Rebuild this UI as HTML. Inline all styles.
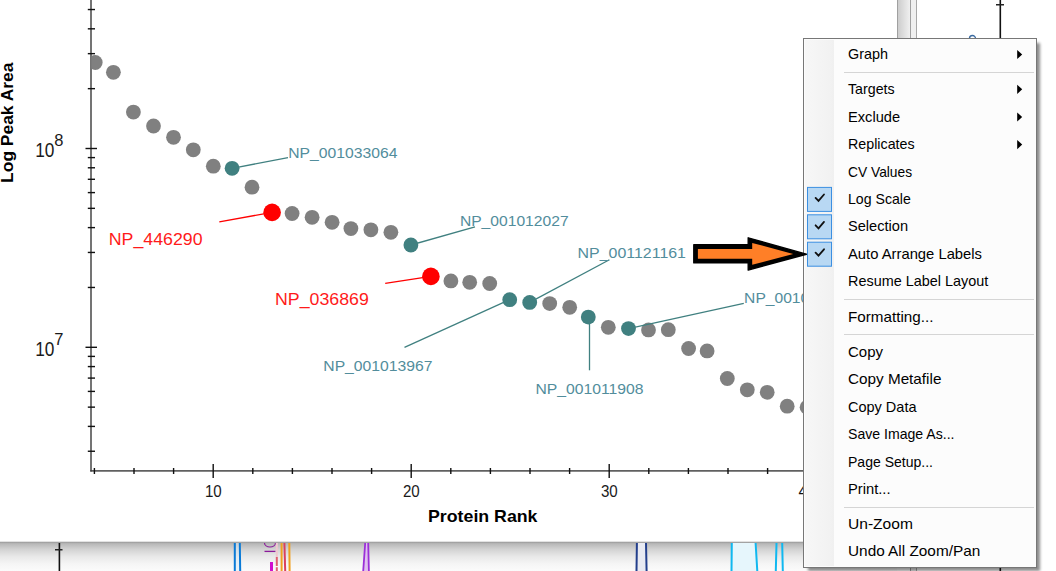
<!DOCTYPE html>
<html><head><meta charset="utf-8"><style>
html,body{margin:0;padding:0;background:#fff;width:1056px;height:571px;overflow:hidden;position:relative;font-family:"Liberation Sans",sans-serif}
</style></head><body>
<svg width="1056" height="571" viewBox="0 0 1056 571" style="position:absolute;left:0;top:0">
<defs>
<clipPath id="plot"><rect x="91.5" y="0" width="712" height="470"/></clipPath>
<linearGradient id="botg" x1="0" y1="0" x2="0" y2="1"><stop offset="0" stop-color="#9a9a9a"/><stop offset="0.06" stop-color="#b8b8b8"/><stop offset="0.25" stop-color="#d2d2d2"/><stop offset="0.5" stop-color="#e8e8e8"/><stop offset="0.75" stop-color="#f5f5f5"/><stop offset="1" stop-color="#fbfbfb"/></linearGradient>
<linearGradient id="splg" x1="0" y1="0" x2="1" y2="0"><stop offset="0" stop-color="#cdcdcd"/><stop offset="1" stop-color="#f0f0f0"/></linearGradient>
<linearGradient id="gutg" x1="0" y1="0" x2="1" y2="0"><stop offset="0" stop-color="#f7f7f7"/><stop offset="0.85" stop-color="#f2f2f2"/><stop offset="1" stop-color="#f0f0f0"/></linearGradient>
<linearGradient id="shr" x1="0" y1="0" x2="1" y2="0"><stop offset="0" stop-color="#000" stop-opacity="0.45"/><stop offset="1" stop-color="#000" stop-opacity="0"/></linearGradient>
<linearGradient id="shb" x1="0" y1="0" x2="0" y2="1"><stop offset="0" stop-color="#000" stop-opacity="0.45"/><stop offset="1" stop-color="#000" stop-opacity="0"/></linearGradient>
</defs>
<rect x="0" y="0" width="1056" height="571" fill="#ffffff"/>
<rect x="897" y="0" width="1" height="40" fill="#a0a0a0"/>
<rect x="898" y="0" width="12" height="40" fill="url(#splg)"/>
<rect x="910" y="0" width="1" height="571" fill="#a0a0a0"/>
<rect x="911" y="0" width="5" height="571" fill="#f0f0f0"/>
<rect x="916" y="0" width="1" height="571" fill="#a8a8a8"/>
<rect x="999.5" y="0" width="1.6" height="571" fill="#111"/>
<rect x="996" y="4" width="8" height="1.5" fill="#222"/>
<path d="M969.5 38.5 a3 3 0 0 1 6 0" stroke="#3a6aa0" stroke-width="1.4" fill="none"/>
<rect x="0" y="542" width="897" height="29" fill="url(#botg)"/>
<rect x="0" y="541" width="897" height="1" fill="#e2e2e2"/>
<rect x="58.6" y="543" width="1.6" height="28" fill="#111"/>
<rect x="55" y="549" width="7.5" height="1.5" fill="#222"/>
<rect x="236" y="543" width="4" height="28" fill="#d8ecfa" opacity="0.5"/>
<path d="M234.8 543 L234.8 571 M239.8 543 L240.2 571" stroke="#0a7ad6" stroke-width="2" fill="none"/>
<path d="M264.5 551.4 L275.5 551.4" stroke="#8a1a9a" stroke-width="1.3"/>
<path d="M264.5 543 a5.5 4 0 0 0 11 0" stroke="#8a1a9a" stroke-width="1.2" fill="none"/>
<rect x="270" y="562" width="3" height="9" fill="#d010d0"/>
<path d="M276.8 557 L276.8 571" stroke="#e06070" stroke-width="2" stroke-dasharray="9 1.2"/>
<path d="M276.8 543 L276.8 557" stroke="#f0c8d0" stroke-width="2"/>
<path d="M281.6 543 L281.6 571 M289.3 543 L289.6 571" stroke="#f0a020" stroke-width="2"/>
<path d="M284.4 543 L285.2 571" stroke="#d84060" stroke-width="2"/>
<path d="M365.2 543 L363.2 571 L368.8 571 L368.2 543 Z" fill="#e0c0f0"/>
<path d="M365.2 543 L363.2 571 M368.2 543 L368.9 571" stroke="#9b30d8" stroke-width="1.8" fill="none"/>
<rect x="637" y="543" width="9" height="28" fill="#e8eaf2"/>
<path d="M636.9 543 L636.5 571 M646.0 543 L646.6 571" stroke="#233f8c" stroke-width="2" fill="none"/>
<path d="M731.8 543 L731.5 571 L757.3 571 L755.6 543 Z" fill="#e6f6fc"/>
<path d="M731.8 543 L731.5 571 M755.6 543 L757.3 571 M776.5 543 L775.8 571 M782.2 543 L782.8 571" stroke="#10b8f0" stroke-width="2" fill="none"/>
<rect x="90.3" y="0" width="1.4" height="471.5" fill="#3a3a3a"/>
<rect x="90.3" y="470.2" width="713" height="1.4" fill="#3a3a3a"/>
<rect x="87.8" y="450.55" width="7.2" height="1.4" fill="#111"/>
<rect x="87.8" y="425.71" width="7.2" height="1.4" fill="#111"/>
<rect x="87.8" y="406.44" width="7.2" height="1.4" fill="#111"/>
<rect x="87.8" y="390.70" width="7.2" height="1.4" fill="#111"/>
<rect x="87.8" y="377.39" width="7.2" height="1.4" fill="#111"/>
<rect x="87.8" y="365.87" width="7.2" height="1.4" fill="#111"/>
<rect x="87.8" y="355.70" width="7.2" height="1.4" fill="#111"/>
<rect x="85.5" y="346.60" width="11.5" height="1.4" fill="#111"/>
<rect x="87.8" y="286.76" width="7.2" height="1.4" fill="#111"/>
<rect x="87.8" y="251.75" width="7.2" height="1.4" fill="#111"/>
<rect x="87.8" y="226.91" width="7.2" height="1.4" fill="#111"/>
<rect x="87.8" y="207.64" width="7.2" height="1.4" fill="#111"/>
<rect x="87.8" y="191.90" width="7.2" height="1.4" fill="#111"/>
<rect x="87.8" y="178.59" width="7.2" height="1.4" fill="#111"/>
<rect x="87.8" y="167.07" width="7.2" height="1.4" fill="#111"/>
<rect x="87.8" y="156.90" width="7.2" height="1.4" fill="#111"/>
<rect x="85.5" y="147.80" width="11.5" height="1.4" fill="#111"/>
<rect x="87.8" y="87.96" width="7.2" height="1.4" fill="#111"/>
<rect x="87.8" y="52.95" width="7.2" height="1.4" fill="#111"/>
<rect x="87.8" y="28.11" width="7.2" height="1.4" fill="#111"/>
<rect x="87.8" y="8.84" width="7.2" height="1.4" fill="#111"/>
<rect x="93.70" y="468" width="1.4" height="6" fill="#111"/>
<rect x="133.30" y="468" width="1.4" height="6" fill="#111"/>
<rect x="172.90" y="468" width="1.4" height="6" fill="#111"/>
<rect x="212.50" y="464" width="1.4" height="14" fill="#111"/>
<rect x="252.10" y="468" width="1.4" height="6" fill="#111"/>
<rect x="291.70" y="468" width="1.4" height="6" fill="#111"/>
<rect x="331.30" y="468" width="1.4" height="6" fill="#111"/>
<rect x="370.90" y="468" width="1.4" height="6" fill="#111"/>
<rect x="410.50" y="464" width="1.4" height="14" fill="#111"/>
<rect x="450.10" y="468" width="1.4" height="6" fill="#111"/>
<rect x="489.70" y="468" width="1.4" height="6" fill="#111"/>
<rect x="529.30" y="468" width="1.4" height="6" fill="#111"/>
<rect x="568.90" y="468" width="1.4" height="6" fill="#111"/>
<rect x="608.50" y="464" width="1.4" height="14" fill="#111"/>
<rect x="648.10" y="468" width="1.4" height="6" fill="#111"/>
<rect x="687.70" y="468" width="1.4" height="6" fill="#111"/>
<rect x="727.30" y="468" width="1.4" height="6" fill="#111"/>
<rect x="766.90" y="468" width="1.4" height="6" fill="#111"/>
<text x="35.2" y="156.8" font-family="Liberation Sans, sans-serif" font-size="20" fill="#1a1a1a" textLength="19.2" lengthAdjust="spacingAndGlyphs">10</text>
<text x="54.3" y="146.0" font-family="Liberation Sans, sans-serif" font-size="16.5" fill="#1a1a1a">8</text>
<text x="35.2" y="355.6" font-family="Liberation Sans, sans-serif" font-size="20" fill="#1a1a1a" textLength="19.2" lengthAdjust="spacingAndGlyphs">10</text>
<text x="54.3" y="344.8" font-family="Liberation Sans, sans-serif" font-size="16.5" fill="#1a1a1a">7</text>
<text x="204.9" y="496.8" font-family="Liberation Sans, sans-serif" font-size="16" fill="#1a1a1a" textLength="16.8" lengthAdjust="spacingAndGlyphs">10</text>
<text x="402.9" y="496.8" font-family="Liberation Sans, sans-serif" font-size="16" fill="#1a1a1a" textLength="16.8" lengthAdjust="spacingAndGlyphs">20</text>
<text x="600.9" y="496.8" font-family="Liberation Sans, sans-serif" font-size="16" fill="#1a1a1a" textLength="16.8" lengthAdjust="spacingAndGlyphs">30</text>
<text x="798.6" y="496.8" font-family="Liberation Sans, sans-serif" font-size="16" fill="#111">4</text>
<text x="428" y="522.4" font-family="Liberation Sans, sans-serif" font-size="17" font-weight="bold" fill="#000" textLength="109.5" lengthAdjust="spacingAndGlyphs">Protein Rank</text>
<text transform="translate(12.8,182.9) rotate(-90)" font-family="Liberation Sans, sans-serif" font-size="17" font-weight="bold" fill="#000" textLength="120.4" lengthAdjust="spacingAndGlyphs">Log Peak Area</text>
<g clip-path="url(#plot)">
<circle cx="95.2" cy="62.5" r="7.4" fill="#808080"/>
<circle cx="113.4" cy="72.3" r="7.4" fill="#808080"/>
<circle cx="133.4" cy="112.1" r="7.4" fill="#808080"/>
<circle cx="153.5" cy="126" r="7.4" fill="#808080"/>
<circle cx="173.5" cy="137.3" r="7.4" fill="#808080"/>
<circle cx="193.3" cy="149.8" r="7.4" fill="#808080"/>
<circle cx="213.3" cy="166.2" r="7.4" fill="#808080"/>
<circle cx="232.1" cy="168.3" r="7.4" fill="#408080"/>
<circle cx="252" cy="187.2" r="7.4" fill="#808080"/>
<circle cx="272.1" cy="212.4" r="8.8" fill="#ff0000"/>
<circle cx="292.1" cy="213.5" r="7.4" fill="#808080"/>
<circle cx="312.1" cy="217.3" r="7.4" fill="#808080"/>
<circle cx="332.1" cy="222.3" r="7.4" fill="#808080"/>
<circle cx="350.9" cy="228.6" r="7.4" fill="#808080"/>
<circle cx="370.9" cy="229.8" r="7.4" fill="#808080"/>
<circle cx="390.9" cy="232.3" r="7.4" fill="#808080"/>
<circle cx="410.9" cy="245" r="7.4" fill="#408080"/>
<circle cx="430.9" cy="276.4" r="8.8" fill="#ff0000"/>
<circle cx="450.9" cy="280.9" r="7.4" fill="#808080"/>
<circle cx="469.7" cy="282.3" r="7.4" fill="#808080"/>
<circle cx="489.7" cy="283.5" r="7.4" fill="#808080"/>
<circle cx="509.7" cy="299.7" r="7.4" fill="#408080"/>
<circle cx="529.7" cy="302.4" r="7.4" fill="#408080"/>
<circle cx="549.7" cy="303.6" r="7.4" fill="#808080"/>
<circle cx="569.7" cy="307.3" r="7.4" fill="#808080"/>
<circle cx="588.3" cy="317.1" r="7.4" fill="#408080"/>
<circle cx="608.3" cy="327.3" r="7.4" fill="#808080"/>
<circle cx="628.5" cy="328.6" r="7.4" fill="#408080"/>
<circle cx="648.5" cy="329.9" r="7.4" fill="#808080"/>
<circle cx="668.3" cy="329.7" r="7.4" fill="#808080"/>
<circle cx="688.6" cy="348.5" r="7.4" fill="#808080"/>
<circle cx="707.1" cy="350.9" r="7.4" fill="#808080"/>
<circle cx="727.3" cy="378.5" r="7.4" fill="#808080"/>
<circle cx="747.3" cy="389.8" r="7.4" fill="#808080"/>
<circle cx="767.2" cy="392.3" r="7.4" fill="#808080"/>
<circle cx="787.2" cy="406.2" r="7.4" fill="#808080"/>
<circle cx="807.1" cy="407.2" r="7.4" fill="#808080"/>
<line x1="232.1" y1="168.3" x2="288" y2="157.6" stroke="#408080" stroke-width="1.3"/>
<line x1="272.1" y1="212.4" x2="219.3" y2="221.8" stroke="#ff0000" stroke-width="1.3"/>
<line x1="410.9" y1="245" x2="475" y2="226.8" stroke="#408080" stroke-width="1.3"/>
<line x1="430.9" y1="276.4" x2="385.2" y2="283.4" stroke="#ff0000" stroke-width="1.3"/>
<line x1="509.7" y1="299.7" x2="404.5" y2="347.3" stroke="#408080" stroke-width="1.3"/>
<line x1="529.7" y1="302.4" x2="609.4" y2="259.7" stroke="#408080" stroke-width="1.3"/>
<line x1="589.5" y1="317.1" x2="589.5" y2="370.3" stroke="#408080" stroke-width="1.3"/>
<line x1="628.5" y1="328.6" x2="743.8" y2="303.3" stroke="#408080" stroke-width="1.3"/>
</g>
<g clip-path="url(#plot)">
<text x="288.2" y="157.5" font-family="Liberation Sans, sans-serif" font-size="15.4" fill="#528d9c" textLength="109.2" lengthAdjust="spacingAndGlyphs">NP_001033064</text>
<text x="459.9" y="225.6" font-family="Liberation Sans, sans-serif" font-size="15.4" fill="#528d9c" textLength="108.7" lengthAdjust="spacingAndGlyphs">NP_001012027</text>
<text x="577.6" y="258.3" font-family="Liberation Sans, sans-serif" font-size="15.4" fill="#528d9c" textLength="108.4" lengthAdjust="spacingAndGlyphs">NP_001121161</text>
<text x="323.3" y="370.6" font-family="Liberation Sans, sans-serif" font-size="15.4" fill="#528d9c" textLength="109.2" lengthAdjust="spacingAndGlyphs">NP_001013967</text>
<text x="535.5" y="394.4" font-family="Liberation Sans, sans-serif" font-size="15.4" fill="#528d9c" textLength="108.1" lengthAdjust="spacingAndGlyphs">NP_001011908</text>
<text x="744.1" y="303.3" font-family="Liberation Sans, sans-serif" font-size="15.4" fill="#528d9c" textLength="108.6" lengthAdjust="spacingAndGlyphs">NP_001000000</text>
<text x="108.8" y="245.3" font-family="Liberation Sans, sans-serif" font-size="16.8" fill="#ff1a1a" textLength="93.8" lengthAdjust="spacingAndGlyphs">NP_446290</text>
<text x="275.0" y="305.2" font-family="Liberation Sans, sans-serif" font-size="16.8" fill="#ff1a1a" textLength="93.8" lengthAdjust="spacingAndGlyphs">NP_036869</text>
</g>
<filter id="blur" x="-5%" y="-5%" width="110%" height="110%"><feGaussianBlur stdDeviation="1.6"/></filter>
<rect x="808" y="43" width="232" height="528" fill="#000" opacity="0.45" filter="url(#blur)"/>
<rect x="803" y="38" width="234" height="530" fill="#777"/>
<rect x="804" y="39" width="232" height="528" fill="#fcfcfc"/>
<rect x="805" y="40" width="29" height="526" fill="url(#gutg)"/>
<rect x="844" y="72" width="190" height="1" fill="#d5d5d5"/>
<rect x="844" y="299" width="190" height="1" fill="#d5d5d5"/>
<rect x="844" y="334" width="190" height="1" fill="#d5d5d5"/>
<rect x="844" y="507" width="190" height="1" fill="#d5d5d5"/>
<text x="848" y="59.1" font-family="Liberation Sans, sans-serif" font-size="15" fill="#000" textLength="40.0" lengthAdjust="spacingAndGlyphs">Graph</text>
<path d="M1017.2 49.9 L1022.2 54.5 L1017.2 59.1 Z" fill="#000"/>
<text x="848" y="93.9" font-family="Liberation Sans, sans-serif" font-size="15" fill="#000" textLength="46.6" lengthAdjust="spacingAndGlyphs">Targets</text>
<path d="M1017.2 84.7 L1022.2 89.3 L1017.2 93.9 Z" fill="#000"/>
<text x="848" y="121.6" font-family="Liberation Sans, sans-serif" font-size="15" fill="#000" textLength="52.1" lengthAdjust="spacingAndGlyphs">Exclude</text>
<path d="M1017.2 112.4 L1022.2 117.0 L1017.2 121.6 Z" fill="#000"/>
<text x="848" y="149.2" font-family="Liberation Sans, sans-serif" font-size="15" fill="#000" textLength="66.6" lengthAdjust="spacingAndGlyphs">Replicates</text>
<path d="M1017.2 140.0 L1022.2 144.6 L1017.2 149.2 Z" fill="#000"/>
<text x="848" y="176.6" font-family="Liberation Sans, sans-serif" font-size="15" fill="#000" textLength="64.1" lengthAdjust="spacingAndGlyphs">CV Values</text>
<text x="848" y="204.0" font-family="Liberation Sans, sans-serif" font-size="15" fill="#000" textLength="62.8" lengthAdjust="spacingAndGlyphs">Log Scale</text>
<rect x="807.5" y="187.4" width="24" height="24" fill="#b8d8f3" stroke="#3b8fe2" stroke-width="1"/>
<path d="M815.6 197.9 L818.5 200.9 L824 194.5" stroke="#111" stroke-width="1.8" fill="none" stroke-linecap="round"/>
<text x="848" y="231.4" font-family="Liberation Sans, sans-serif" font-size="15" fill="#000" textLength="60.1" lengthAdjust="spacingAndGlyphs">Selection</text>
<rect x="807.5" y="214.8" width="24" height="24" fill="#b8d8f3" stroke="#3b8fe2" stroke-width="1"/>
<path d="M815.6 225.3 L818.5 228.3 L824 221.9" stroke="#111" stroke-width="1.8" fill="none" stroke-linecap="round"/>
<text x="848" y="258.8" font-family="Liberation Sans, sans-serif" font-size="15" fill="#000" textLength="134.0" lengthAdjust="spacingAndGlyphs">Auto Arrange Labels</text>
<rect x="807.5" y="242.2" width="24" height="24" fill="#b8d8f3" stroke="#3b8fe2" stroke-width="1"/>
<path d="M815.6 252.7 L818.5 255.7 L824 249.3" stroke="#111" stroke-width="1.8" fill="none" stroke-linecap="round"/>
<text x="848" y="286.1" font-family="Liberation Sans, sans-serif" font-size="15" fill="#000" textLength="140.3" lengthAdjust="spacingAndGlyphs">Resume Label Layout</text>
<text x="848" y="321.5" font-family="Liberation Sans, sans-serif" font-size="15" fill="#000" textLength="85.4" lengthAdjust="spacingAndGlyphs">Formatting...</text>
<text x="848" y="356.5" font-family="Liberation Sans, sans-serif" font-size="15" fill="#000" textLength="35.0" lengthAdjust="spacingAndGlyphs">Copy</text>
<text x="848" y="384.0" font-family="Liberation Sans, sans-serif" font-size="15" fill="#000" textLength="93.4" lengthAdjust="spacingAndGlyphs">Copy Metafile</text>
<text x="848" y="411.5" font-family="Liberation Sans, sans-serif" font-size="15" fill="#000" textLength="68.5" lengthAdjust="spacingAndGlyphs">Copy Data</text>
<text x="848" y="439.0" font-family="Liberation Sans, sans-serif" font-size="15" fill="#000" textLength="106.5" lengthAdjust="spacingAndGlyphs">Save Image As...</text>
<text x="848" y="466.5" font-family="Liberation Sans, sans-serif" font-size="15" fill="#000" textLength="85.0" lengthAdjust="spacingAndGlyphs">Page Setup...</text>
<text x="848" y="493.8" font-family="Liberation Sans, sans-serif" font-size="15" fill="#000" textLength="42.5" lengthAdjust="spacingAndGlyphs">Print...</text>
<text x="848" y="528.8" font-family="Liberation Sans, sans-serif" font-size="15" fill="#000" textLength="64.9" lengthAdjust="spacingAndGlyphs">Un-Zoom</text>
<text x="848" y="556.0" font-family="Liberation Sans, sans-serif" font-size="15" fill="#000" textLength="132.3" lengthAdjust="spacingAndGlyphs">Undo All Zoom/Pan</text>
<path d="M693.8 244.7 L748.2 244.7 L748.2 237.8 L806.4 254.2 L748.2 270.1 L748.2 262.9 L693.8 262.9 Z" fill="#000" stroke="#000" stroke-width="1.4" stroke-linejoin="round"/>
<path d="M697.9 248.9 L752.2 248.9 L752.2 242.9 L793.2 254 L752.2 264.8 L752.2 258.7 L697.9 258.7 Z" fill="#ff7f27"/>
</svg>
</body></html>
